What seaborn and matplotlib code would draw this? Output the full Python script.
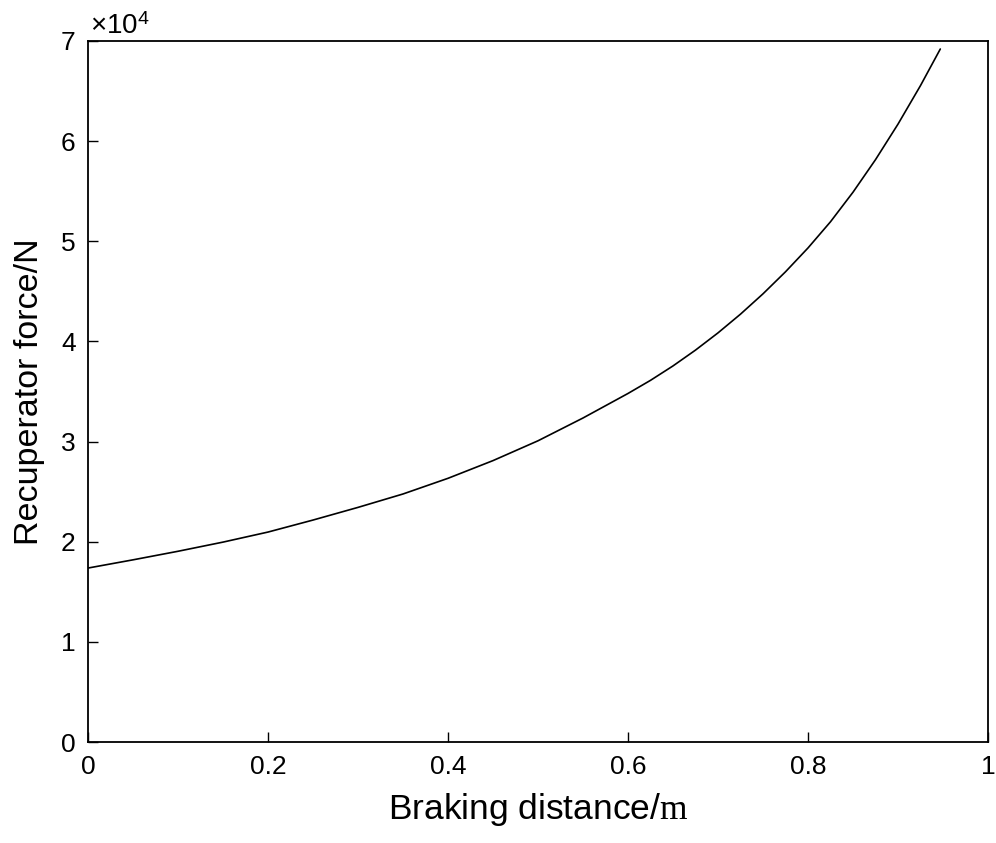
import matplotlib
matplotlib.use("Agg")
import matplotlib.pyplot as plt
import seaborn as sns
import pandas as pd

# Data
distance = [0.0, 0.05, 0.10, 0.15, 0.20, 0.25, 0.30, 0.35, 0.40, 0.45, 0.50,
            0.55, 0.60, 0.625, 0.65, 0.675, 0.70, 0.725, 0.75, 0.775, 0.80,
            0.825, 0.85, 0.875, 0.90, 0.925, 0.947]
force = [17370, 18190, 19045, 19960, 20964, 22163, 23428, 24766, 26331, 28099,
         30078, 32354, 34804, 36114, 37554, 39134, 40854, 42724, 44754, 46954,
         49334, 51950, 54900, 58150, 61700, 65550, 69200]

x_ticks = [0, 0.2, 0.4, 0.6, 0.8, 1]
x_tick_labels = ["0", "0.2", "0.4", "0.6", "0.8", "1"]
y_ticks = [0, 1, 2, 3, 4, 5, 6, 7]
y_tick_labels = ["0", "1", "2", "3", "4", "5", "6", "7"]

sns.set_theme(style="white")
plt.rcParams["font.family"] = ["Liberation Sans", "DejaVu Sans"]
plt.rcParams["mathtext.fontset"] = "custom"
plt.rcParams["mathtext.rm"] = "Liberation Serif"
plt.rcParams["mathtext.it"] = "Liberation Serif:italic"
plt.rcParams["mathtext.sf"] = "Liberation Sans"

df = pd.DataFrame({"x": distance, "y": [v / 1e4 for v in force]})

fig = plt.figure(figsize=(9.96, 8.43), dpi=100)
ax = fig.add_axes([88 / 996, 1 - 742 / 843, 900 / 996, 701 / 843])

sns.lineplot(data=df, x="x", y="y", ax=ax, color="black", linewidth=1.2)

ax.set_xlim(0, 1)
ax.set_ylim(0, 7)
ax.set_xticks(x_ticks)
ax.set_xticklabels(x_tick_labels)
ax.set_yticks(y_ticks)
ax.set_yticklabels(y_tick_labels)

ax.tick_params(axis="both", direction="in", length=7, width=1.0, color="black",
               labelsize=19, pad=9, labelcolor="black",
               bottom=True, left=True, top=False, right=False)
for s in ax.spines.values():
    s.set_color("black")
    s.set_linewidth(1.3)

ax.set_xlabel("Braking distance/$\\mathrm{m}$", fontsize=25.5, color="black", labelpad=9)
ax.set_ylabel("Recuperator force/N", fontsize=24.5, color="black", labelpad=11)

fig.text(90 / 996, 1 - 34 / 843, "×10$^{\\mathsf{4}}$", fontsize=20, color="black",
         ha="left", va="baseline")

fig.savefig("out.png", dpi=100, facecolor="white")
